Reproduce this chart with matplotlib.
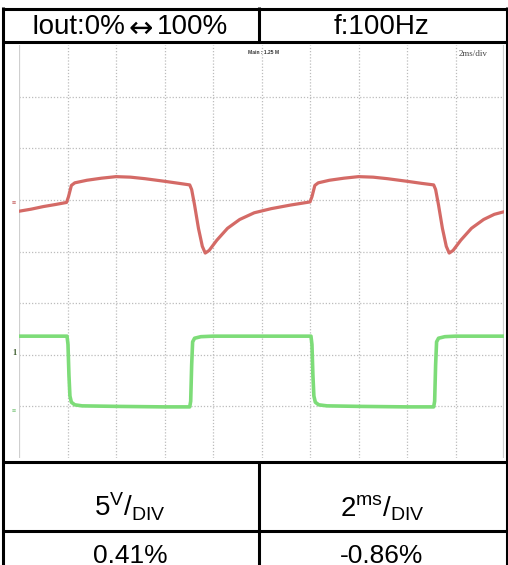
import numpy as np
import matplotlib
matplotlib.use("Agg")
import matplotlib.pyplot as plt

plt.rcParams['font.family'] = ['Liberation Sans', 'DejaVu Sans']
plt.rcParams['mathtext.fontset'] = 'custom'
plt.rcParams['mathtext.rm'] = 'Liberation Sans'

# table text
header_left = ["Iout:0%", "\u2194", "100%"]
header_right = "f:100Hz"
scales = [r"$\mathregular{5^{V}/_{DIV}}$", r"$\mathregular{2^{ms}/_{DIV}}$"]
results = ["0.41%", "-0.86%"]

# CH1 (red) trace, time in ms (2 ms/div), level in divisions from bottom
red_t = [0.00, 0.50, 1.00, 1.50, 1.96, 2.04, 2.16, 2.30, 2.80, 3.40, 4.00,
         4.60, 5.20, 6.00, 6.60, 7.04, 7.12, 7.24, 7.40, 7.56, 7.68, 7.84,
         8.16, 8.60, 9.10, 9.70, 10.40, 11.20, 12.00, 12.08, 12.20, 12.34,
         12.80, 13.40, 14.00, 14.60, 15.20, 16.00, 16.60, 17.10, 17.18,
         17.30, 17.46, 17.62, 17.74, 17.90, 18.22, 18.66, 19.16, 19.60, 20.00]
red_v = [4.78, 4.82, 4.87, 4.91, 4.95, 5.06, 5.28, 5.33, 5.38, 5.42, 5.45,
         5.44, 5.41, 5.36, 5.32, 5.29, 5.20, 4.90, 4.45, 4.10, 3.97, 4.02,
         4.22, 4.45, 4.62, 4.75, 4.83, 4.90, 4.96, 5.06, 5.28, 5.33, 5.38,
         5.42, 5.45, 5.44, 5.41, 5.36, 5.32, 5.29, 5.20, 4.90, 4.45, 4.10,
         3.97, 4.02, 4.22, 4.45, 4.62, 4.72, 4.77]

# CH2 (green) trace
green_t = [0.00, 1.98, 2.02, 2.06, 2.10, 2.16, 2.30, 2.60, 4.00, 6.00, 7.04,
           7.08, 7.12, 7.16, 7.24, 7.50, 8.00, 10.00, 12.04, 12.08, 12.12,
           12.16, 12.22, 12.36, 12.70, 14.00, 16.00, 17.10, 17.14, 17.18,
           17.22, 17.30, 17.56, 18.00, 20.00]
green_v = [2.36, 2.36, 2.20, 1.60, 1.20, 1.08, 1.03, 1.01, 1.00, 0.99, 0.99,
           1.10, 1.80, 2.25, 2.32, 2.35, 2.36, 2.36, 2.36, 2.20, 1.60, 1.20,
           1.08, 1.03, 1.01, 1.00, 0.99, 0.99, 1.10, 1.80, 2.25, 2.32, 2.35,
           2.36, 2.36]

W, H = 508, 565
fig = plt.figure(figsize=(W / 100, H / 100), dpi=100)

# scope screen
gx0, gx1, gy0, gy1 = 19, 504, 45, 458
ax = fig.add_axes([gx0 / W, 1 - gy1 / H, (gx1 - gx0) / W, (gy1 - gy0) / H])
ax.set_xlim(0, 20)
ax.set_ylim(0, 8)
for x in np.arange(2, 20, 2):
    ax.axvline(x, color='#bcbcbc', lw=0.9, ls=(0, (1, 1.5)), zorder=1)
for y in range(1, 8):
    ax.axhline(y, color='#bcbcbc', lw=0.9, ls=(0, (1, 1.5)), zorder=1)
ax.axvline(0, color='#cfcfcf', lw=1.6, zorder=1)
ax.axvline(20, color='#cfcfcf', lw=1.6, zorder=1)
ax.plot(red_t, red_v, color='#d46a66', lw=2.3, solid_joinstyle='round', zorder=3)
ax.plot(green_t, green_v, color='#7ddc78', lw=2.6, solid_joinstyle='round', zorder=3)
ax.set_xticks([])
ax.set_yticks([])
for s in ax.spines.values():
    s.set_visible(False)

# table overlay in pixel coordinates
tab = fig.add_axes([0, 0, 1, 1], zorder=5)
tab.set_xlim(0, W)
tab.set_ylim(H, 0)
tab.axis('off')
tab.patch.set_alpha(0)

lw = 2.2
for y in [8.5, 42, 461.5, 530.5]:
    tab.plot([1.5, 508], [y, y], color='black', lw=lw, solid_capstyle='butt')
tab.plot([3, 3], [7, 566], color='black', lw=lw, solid_capstyle='butt')
tab.plot([507, 507], [7, 566], color='black', lw=lw, solid_capstyle='butt')
tab.plot([258.5, 258.5], [7, 42], color='black', lw=lw, solid_capstyle='butt')
tab.plot([258.5, 258.5], [461.5, 566], color='black', lw=lw, solid_capstyle='butt')

# header: left cell built from pieces so the arrow is full size
t1 = tab.text(32, 33.5, header_left[0], ha='left', va='baseline', fontsize=20)
tab.annotate(header_left[1], xy=(1, 0), xycoords=t1, xytext=(2, -2.5),
             textcoords='offset points', ha='left', va='bottom',
             fontsize=21, family='DejaVu Sans')
tab.annotate(header_left[2], xy=(1, 0), xycoords=t1, xytext=(22.5, 0),
             textcoords='offset points', ha='left', va='bottom', fontsize=20)
tab.text(382, 33.5, header_right, ha='center', va='baseline', fontsize=20)

cx = [130, 382]
for i in range(2):
    tab.text(cx[i], 516.5, scales[i], ha='center', va='baseline', fontsize=20)
    tab.text(cx[i], 563, results[i], ha='center', va='baseline', fontsize=19)

# scope annotations
tab.text(264, 53, "Main : 1.25 M", ha='center', va='center', fontsize=3.6,
         fontweight='bold', color='#333333')
tab.text(473, 54, "2ms/div", ha='center', va='center', fontsize=6.5,
         family='Liberation Serif', color='#444444')
tab.text(14, 203, "\u2261", ha='center', va='center', fontsize=5, color='#c05050')
tab.text(14, 353, "1", ha='center', va='center', fontsize=6,
         family='Liberation Serif', fontweight='bold', color='#3a5a2a')
tab.text(14, 412, "\u2261", ha='center', va='center', fontsize=5, color='#70c070')

fig.savefig('out.png', dpi=100)
